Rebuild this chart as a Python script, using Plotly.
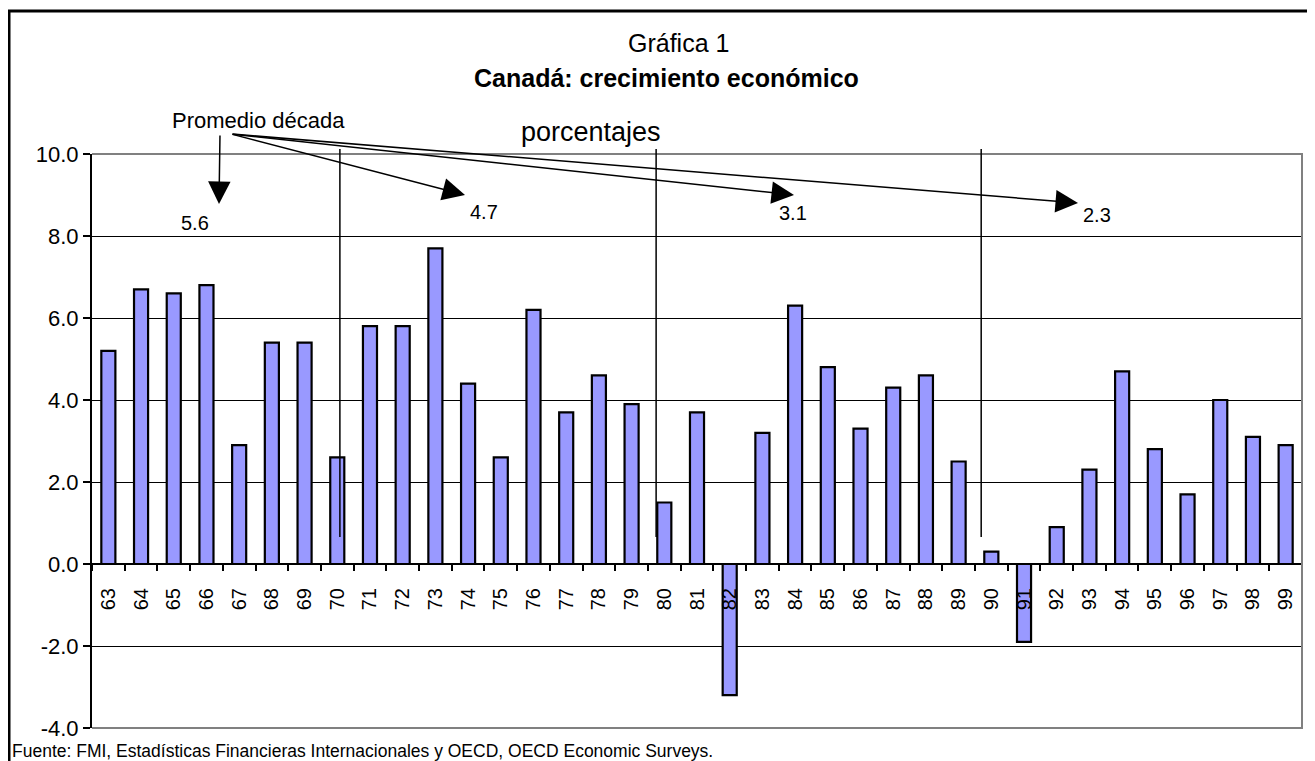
import plotly.graph_objects as go

# ---- data ----
years = ["63", "64", "65", "66", "67", "68", "69", "70", "71", "72", "73", "74",
         "75", "76", "77", "78", "79", "80", "81", "82", "83", "84", "85", "86",
         "87", "88", "89", "90", "91", "92", "93", "94", "95", "96", "97", "98", "99"]
growth = [5.2, 6.7, 6.6, 6.8, 2.9, 5.4, 5.4, 2.6, 5.8, 5.8, 7.7, 4.4,
          2.6, 6.2, 3.7, 4.6, 3.9, 1.5, 3.7, -3.2, 3.2, 6.3, 4.8, 3.3,
          4.3, 4.6, 2.5, 0.3, -1.9, 0.9, 2.3, 4.7, 2.8, 1.7, 4.0, 3.1, 2.9]
decade_avg = [5.6, 4.7, 3.1, 2.3]
ytick_vals = [-4, -2, 0, 2, 4, 6, 8, 10]
ytick_text = [f"{v:.1f}" for v in ytick_vals]

title_top = "Gráfica 1"
title_main = "<b>Canadá: crecimiento económico</b>"
subtitle = "porcentajes"
avg_label = "Promedio década"
source = "Fuente: FMI, Estadísticas Financieras Internacionales y OECD, OECD Economic Surveys."

FONT = "Liberation Sans, Arial, sans-serif"
OFF = 8                      # page body margin
W, H = 1315 - OFF, 761 - OFF
ML, MR, MT, MB = 92 - OFF, 13, 154 - OFF, 33
ymin, ymax = -4, 10

fig = go.Figure()
fig.add_trace(go.Bar(
    x=years, y=growth, width=0.43,
    marker=dict(color="#9999FF", line=dict(color="black", width=2.2)),
    showlegend=False, hoverinfo="x+y",
))

pw, ph = W - ML - MR, H - MT - MB
def px(x):   # reference-image pixel -> paper
    return (x - OFF - ML) / pw
def py(y):
    return (H - MB - (y - OFF)) / ph

shapes = []
shapes.append(dict(type="path", xref="paper", yref="paper",
                   path="M0,0 L1,0 L1,1 L0,1", line=dict(color="#808080", width=2)))
fx0, fx1, fy0, fy1 = px(9), px(1330), py(785), py(11)
shapes.append(dict(type="path", xref="paper", yref="paper",
                   path=f"M{fx1},{fy0} L{fx0},{fy0} L{fx0},{fy1} L{fx1},{fy1}",
                   line=dict(color="black", width=3), layer="above"))
for xs in [7.08, 16.75, 26.69]:
    shapes.append(dict(type="line", xref="x", yref="paper", x0=xs, x1=xs,
                       y0=py(537), y1=py(149), line=dict(color="black", width=1.5)))

def txt(text, x, y, size, xanchor="center", yanchor="middle"):
    return dict(text=text, xref="paper", yref="paper", x=px(x), y=py(y),
                xanchor=xanchor, yanchor=yanchor, showarrow=False,
                font=dict(family=FONT, size=size, color="black"))

annotations = [
    txt(title_top, 678, 43, 25),
    txt(title_main, 666, 78, 25),
    txt(subtitle, 591, 132, 27),
    txt(avg_label, 258, 121, 22),
    txt(source, 10, 763, 17.5, xanchor="left", yanchor="bottom"),
]

label_pos = [(195, 223), (484, 212), (793, 213), (1097, 215)]
tips = [(219, 204), (465, 195), (794, 195), (1078, 203)]
tails = [(220, 134), (231, 134), (231, 134), (231, 134)]
for val, (lx, ly), (tx, ty), (sx, sy) in zip(decade_avg, label_pos, tips, tails):
    annotations.append(txt(f"{val:.1f}", lx, ly, 20))
    annotations.append(dict(text="", xref="paper", yref="paper", x=px(tx), y=py(ty),
                            ax=sx - tx, ay=sy - ty, axref="pixel", ayref="pixel",
                            showarrow=True, arrowhead=2, arrowsize=3, arrowwidth=1.5,
                            arrowcolor="black", standoff=0, startstandoff=0))

fig.update_layout(
    width=W, height=H,
    margin=dict(l=ML, r=MR, t=MT, b=MB),
    paper_bgcolor="white", plot_bgcolor="white",
    font=dict(family=FONT, color="black"),
    shapes=shapes,
    annotations=annotations,
    xaxis=dict(
        type="category", anchor="free", position=(0 - ymin) / (ymax - ymin),
        showline=True, linecolor="black", linewidth=2,
        ticks="outside", tickson="boundaries", ticklen=6, tickwidth=2, tickcolor="black",
        tickangle=-90, tickfont=dict(family=FONT, size=20, color="black"),
        ticklabelstandoff=15,
        showgrid=False, zeroline=False, range=[-0.5, len(years) - 0.5],
    ),
    yaxis=dict(
        range=[ymin, ymax], tickvals=ytick_vals, ticktext=ytick_text,
        showline=True, linecolor="black", linewidth=2,
        ticks="outside", ticklen=7, tickwidth=2, tickcolor="black",
        tickfont=dict(family=FONT, size=22, color="black"),
        showgrid=True, gridcolor="black", gridwidth=1, zeroline=False,
    ),
)

fig.write_html("out.html")
